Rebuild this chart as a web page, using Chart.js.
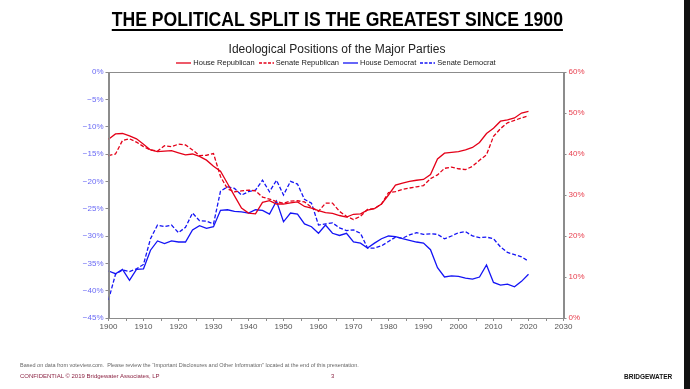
<!DOCTYPE html>
<html>
<head>
<meta charset="utf-8">
<script src="https://cdn.jsdelivr.net/npm/chart.js@4.4.1/dist/chart.umd.min.js"></script>
<style>
  html, body { margin: 0; padding: 0; background: #fff; }
  body { width: 690px; height: 389px; position: relative; overflow: hidden; font-family: "Liberation Sans", Arial, sans-serif; }
  canvas { position: absolute; left: 0; top: 0; }
  .abs { position: absolute; white-space: nowrap; }
  #title { left: 0; width: 675px; top: 8px; text-align: center; }
  #title span { display: inline-block; transform: scaleX(0.88); font-weight: bold; font-size: 20px; color: #000;
                text-decoration: underline; text-decoration-thickness: 1.5px; text-underline-offset: 3px; }
  #subtitle { left: 0; width: 674px; top: 42px; text-align: center; font-size: 12px; color: #222; }
  #legend { left: 0; width: 672px; top: 58px; text-align: center; font-size: 7.5px; color: #222; }
  #legend span.item { margin: 0 2px; }
  #legend svg { vertical-align: middle; margin-right: 2px; }
  #note { left: 20px; top: 362px; font-size: 5.5px; color: #666; }
  #conf { left: 20px; top: 373px; font-size: 6px; color: #8b2343; }
  #page { left: 331px; top: 373px; font-size: 6px; color: #8b2343; }
  #brand { left: 624px; top: 373px; font-size: 6.5px; font-weight: bold; color: #111; }
  #edge { left: 684px; top: 0; width: 6px; height: 389px; background: #111; }
</style>
</head>
<body>
<canvas id="chart" width="690" height="389"></canvas>
<div id="title" class="abs"><span>THE POLITICAL SPLIT IS THE GREATEST SINCE 1900</span></div>
<div id="subtitle" class="abs">Ideological Positions of the Major Parties</div>
<div id="legend" class="abs"></div>
<div id="note" class="abs">Based on data from voteview.com.&nbsp; Please review the “Important Disclosures and Other Information” located at the end of this presentation.</div>
<div id="conf" class="abs">CONFIDENTIAL © 2019 Bridgewater Associates, LP</div>
<div id="page" class="abs">3</div>
<div id="brand" class="abs">BRIDGEWATER</div>
<div id="edge" class="abs"></div>

<script>
// tahun (tiap kongres, 2 tahun)
const years = [1900, 1902, 1904, 1906, 1908, 1910, 1912, 1914, 1916, 1918,
  1920, 1922, 1924, 1926, 1928, 1930, 1932, 1934, 1936, 1938,
  1940, 1942, 1944, 1946, 1948, 1950, 1952, 1954, 1956, 1958,
  1960, 1962, 1964, 1966, 1968, 1970, 1972, 1974, 1976, 1978,
  1980, 1982, 1984, 1986, 1988, 1990, 1992, 1994, 1996, 1998,
  2000, 2002, 2004, 2006, 2008, 2010, 2012, 2014, 2016, 2018, 2020];

// Republik -> sumbu kanan (0..60%)
const houseRep = [43.6, 44.9, 45.0, 44.4, 43.7, 42.4, 41.0, 40.6, 40.7, 40.8,
  40.3, 39.8, 40.0, 39.4, 38.5, 37.0, 35.8, 32.8, 29.8, 26.8,
  25.6, 25.4, 28.2, 28.6, 27.8, 27.8, 28.1, 28.3, 27.2, 26.8,
  26.2, 25.7, 25.5, 25.0, 24.6, 25.3, 25.4, 26.3, 26.7, 27.8,
  30.0, 32.4, 32.9, 33.3, 33.6, 33.8, 35.0, 38.8, 40.2, 40.4,
  40.6, 41.0, 41.6, 42.8, 45.0, 46.3, 48.0, 48.3, 48.8, 50.0, 50.4];

const senateRep = [39.6, 40.0, 43.3, 43.7, 42.9, 41.8, 41.0, 40.7, 42.0, 41.8,
  42.4, 42.2, 41.0, 39.6, 39.7, 40.1, 34.5, 31.5, 30.8, 31.0,
  31.2, 31.0, 29.5, 29.0, 28.4, 28.0, 28.5, 28.6, 28.3, 27.0,
  26.0, 28.0, 28.0, 26.0, 24.8, 24.0, 24.8, 26.5, 26.7, 27.8,
  30.6, 30.8, 31.4, 31.7, 32.0, 32.3, 34.0, 34.9, 36.5, 36.8,
  36.4, 36.2, 37.0, 38.5, 39.8, 44.3, 46.2, 47.6, 48.2, 48.8, 49.3];

// Demokrat -> sumbu kiri (-45..0%)
const houseDem = [-36.4, -36.9, -36.1, -38.1, -36.1, -36.0, -32.6, -30.9, -31.4, -30.9,
  -31.1, -31.1, -28.9, -28.1, -28.6, -28.3, -25.3, -25.2, -25.5, -25.6,
  -25.8, -25.2, -25.3, -26.0, -23.6, -27.4, -25.8, -26.0, -27.8, -28.3,
  -29.5, -28.0, -29.5, -29.9, -29.5, -31.1, -31.3, -32.2, -31.3, -30.5,
  -30.0, -30.1, -30.5, -30.8, -31.1, -31.3, -32.5, -35.8, -37.5, -37.3,
  -37.4, -37.7, -37.9, -37.5, -35.3, -38.5, -39.0, -38.8, -39.3, -38.3, -37.0];

const senateDem = [-41.7, -37.0, -36.2, -36.5, -36.0, -35.2, -30.5, -28.0, -28.3, -28.0,
  -29.4, -28.4, -25.8, -27.2, -27.3, -27.8, -21.8, -21.0, -21.3, -22.5,
  -21.9, -21.6, -19.8, -21.9, -19.8, -22.5, -20.0, -20.5, -23.3, -24.0,
  -28.0, -27.8, -27.6, -28.5, -29.0, -28.9, -29.5, -32.2, -32.2, -31.8,
  -31.0, -30.2, -30.4, -29.8, -29.4, -29.7, -29.6, -29.7, -30.5, -30.0,
  -29.4, -29.2, -30.0, -30.3, -30.2, -30.5, -32.0, -33.0, -33.4, -33.8, -34.6];

const RED = 'rgb(228,0,24)';
const BLUE = 'rgb(20,20,245)';
const AXIS = '#8c8c8c';

function toPoints(vals) {
  return years.map((yr, i) => ({ x: yr, y: vals[i] }));
}

function makeSeries(label, vals, color, dashed, axis) {
  return {
    label,
    data: toPoints(vals),
    borderColor: color,
    backgroundColor: color,
    borderWidth: 1.3,
    borderDash: dashed ? [4, 2] : [],
    pointRadius: 0,
    fill: false,
    tension: 0,
    yAxisID: axis
  };
}

const datasets = [
  makeSeries('House Republican', houseRep, RED, false, 'yR'),
  makeSeries('Senate Republican', senateRep, RED, true, 'yR'),
  makeSeries('House Democrat', houseDem, BLUE, false, 'yL'),
  makeSeries('Senate Democrat', senateDem, BLUE, true, 'yL')
];

// legenda HTML di atas grafik
const legendEl = document.getElementById('legend');
datasets.forEach(ds => {
  const dash = ds.borderDash.length ? 'stroke-dasharray="3,1.5"' : '';
  legendEl.insertAdjacentHTML('beforeend',
    '<span class="item"><svg width="15" height="4"><line x1="0" y1="2" x2="15" y2="2" stroke="' +
    ds.borderColor + '" stroke-width="1.3" ' + dash + '/></svg>' + ds.label + '</span>');
});

// bingkai kotak area plot
const framePlugin = {
  id: 'frame',
  afterDraw(chart) {
    const a = chart.chartArea, ctx = chart.ctx;
    ctx.save();
    ctx.strokeStyle = AXIS;
    ctx.lineWidth = 1;
    ctx.strokeRect(Math.round(a.left) + 0.5, Math.round(a.top) + 0.5,
      Math.round(a.right - a.left), Math.round(a.bottom - a.top));
    ctx.restore();
  }
};

const tickFont = { family: '"Liberation Sans", Arial, sans-serif', size: 8 };

new Chart(document.getElementById('chart').getContext('2d'), {
  type: 'line',
  data: { datasets },
  plugins: [framePlugin],
  options: {
    responsive: false,
    animation: false,
    devicePixelRatio: 1,
    layout: { padding: { top: 72, left: 68, right: 96, bottom: 51 } },
    plugins: { legend: { display: false }, title: { display: false }, tooltip: { enabled: false } },
    scales: {
      x: {
        type: 'linear',
        min: 1900, max: 2030,
        afterFit: s => { s.height = 20; },
        grid: { drawOnChartArea: false, color: AXIS, tickLength: 3 },
        border: { color: AXIS },
        ticks: {
          stepSize: 5, autoSkip: false, maxRotation: 0, padding: 1,
          color: '#555', font: tickFont,
          callback: v => (v % 10 === 0 ? String(v) : '')
        }
      },
      yL: {
        type: 'linear', position: 'left',
        min: -45, max: 0,
        afterFit: s => { s.width = 40.5; },
        grid: { drawOnChartArea: false, color: AXIS, tickLength: 3 },
        border: { color: AXIS },
        ticks: {
          stepSize: 5, padding: 2, color: '#6a6af5', font: tickFont,
          callback: v => (v < 0 ? '\u2212' + Math.abs(v) : v) + '%'
        }
      },
      yR: {
        type: 'linear', position: 'right',
        min: 0, max: 60,
        afterFit: s => { s.width = 30.5; },
        grid: { drawOnChartArea: false, color: AXIS, tickLength: 3 },
        border: { color: AXIS },
        ticks: {
          stepSize: 10, padding: 2, color: '#e8404f', font: tickFont,
          callback: v => v + '%'
        }
      }
    }
  }
});
</script>
</body>
</html>
